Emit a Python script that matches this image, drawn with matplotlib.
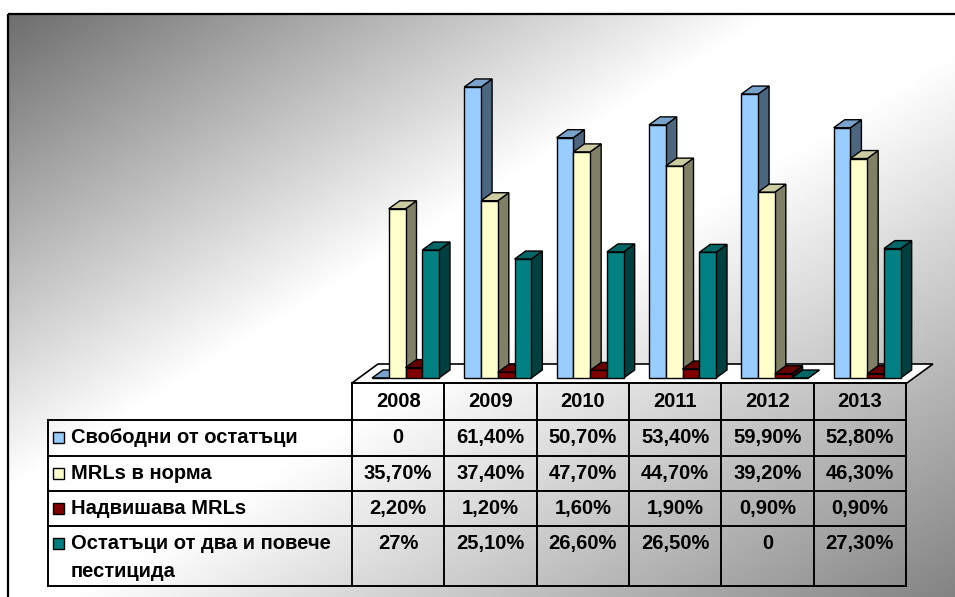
#!/usr/bin/env python3
"""
3D-style clustered bars with a data table underneath (pesticide residues 2008-2013)
"""

import matplotlib
matplotlib.use('Agg')
import matplotlib.pyplot as plt
import numpy as np
from matplotlib.patches import Polygon, Rectangle

plt.rcParams['font.family'] = ['Liberation Sans', 'DejaVu Sans']

# Data
years = ['2008', '2009', '2010', '2011', '2012', '2013']
series_names = ['Свободни от остатъци', 'MRLs в норма', 'Надвишава MRLs',
                'Остатъци от два и повече\nпестицида']
free_of_residues = [0, 61.4, 50.7, 53.4, 59.9, 52.8]
within_mrl = [35.7, 37.4, 47.7, 44.7, 39.2, 46.3]
above_mrl = [2.2, 1.2, 1.6, 1.9, 0.9, 0.9]
multi_residues = [27, 25.1, 26.6, 26.5, 0, 27.3]

series = [free_of_residues, within_mrl, above_mrl, multi_residues]
colors = ['#99CCFF', '#FFFFCC', '#800000', '#008080']


def fmt(v):
    if v == 0:
        return '0'
    if float(v).is_integer():
        return f'{int(v)}%'
    return f'{v:.2f}%'.replace('.', ',')


def shade(c, f):
    r, g, b = matplotlib.colors.to_rgb(c)
    return (r * f, g * f, b * f)


W, H = 955, 597
fig = plt.figure(figsize=(W / 100, H / 100), dpi=100)

# Background: framed chart area with diagonal gradient
bg = fig.add_axes([0, 0, 1, 1])
bg.axis('off')
gx, gy = np.meshgrid(np.linspace(0, 1, 400), np.linspace(0, 1, 300))
u = gx + gy
grad = np.interp(u, [0, 0.8, 1.05, 2.0], [0.43, 1.0, 1.0, 0.5])
bg.imshow(grad, cmap='gray', vmin=0, vmax=1, extent=[8, W + 10, H + 10, 14],
          aspect='auto', interpolation='bilinear', zorder=0)
bg.add_patch(Rectangle((8, 14), W + 10, H + 10, fill=False, edgecolor='black',
                       linewidth=1.6, zorder=1))
bg.set_xlim(0, W)
bg.set_ylim(H, 0)

# Bars (data units: x = category column, y = percent)
px_col = 92.33
px_pct = 4.74
ax = fig.add_axes([352 / W, (H - 378) / H, 554 / W, (378 - 40) / H])
ax.set_xlim(0, 6)
ax.set_ylim(0, (378 - 40) / px_pct)
ax.axis('off')

dx = 11 / px_col
dy = 8 / px_pct
bar_w = 16.75 / px_col
group_off = 20 / px_col

# floor
fdx, fdy = 26 / px_col, 19 / px_pct
f0 = -5 / px_pct
ax.add_patch(Polygon([(0, f0), (6.01, f0), (6.01 + fdx, f0 + fdy), (fdx, f0 + fdy)],
                     closed=True, facecolor='white', edgecolor='black',
                     linewidth=1.2, clip_on=False, zorder=1))

z = 2
for k in range(len(years)):
    for i, (vals, col) in enumerate(zip(series, colors)):
        h = vals[k]
        x0 = k + group_off + i * bar_w
        x1 = x0 + bar_w
        side = Polygon([(x1, 0), (x1 + dx, dy), (x1 + dx, h + dy), (x1, h)], closed=True,
                       facecolor=shade(col, 0.5), edgecolor='black', linewidth=1.0,
                       clip_on=False, zorder=z)
        top = Polygon([(x0, h), (x0 + dx, h + dy), (x1 + dx, h + dy), (x1, h)], closed=True,
                      facecolor=shade(col, 0.8), edgecolor='black', linewidth=1.0,
                      clip_on=False, zorder=z)
        ax.add_patch(side)
        ax.add_patch(top)
        ax.bar(x0, h, width=bar_w, align='edge', color=col, edgecolor='black',
               linewidth=1.0, clip_on=False, zorder=z + 0.5)
        z += 1

# Data table
x_left = (48 - 352) / px_col
x_right = (907 - 352) / px_col
tab = fig.add_axes([48 / W, (H - 586) / H, (907 - 48) / W, (586 - 383) / H])
row_edges = [0, 1, 2, 2.95, 3.9, 5.55]
tab.set_xlim(x_left, x_right)
tab.set_ylim(row_edges[-1], 0)
tab.axis('off')

lw = 1.4
tab.plot([0, 6], [0, 0], color='black', lw=lw, clip_on=False)
for y in row_edges[1:]:
    tab.plot([x_left, 6], [y, y], color='black', lw=lw, clip_on=False)
for k in range(7):
    tab.plot([k, k], [0, row_edges[-1]], color='black', lw=lw, clip_on=False)
tab.plot([x_left, x_left], [1, row_edges[-1]], color='black', lw=lw, clip_on=False)

fs = 14.5
for k, yr in enumerate(years):
    tab.text(k + 0.5, 0.5, yr, ha='center', va='center', fontsize=fs, fontweight='bold')

sq_w = 11 / px_col
sq_h = 11 / 36.58
for r, (name, vals, col) in enumerate(zip(series_names, series, colors)):
    top_edge = row_edges[r + 1]
    ycen = top_edge + 0.5 if r == 3 else (top_edge + row_edges[r + 2]) / 2
    for k, v in enumerate(vals):
        tab.text(k + 0.5, ycen, fmt(v), ha='center', va='center',
                 fontsize=fs, fontweight='bold')
    tab.add_patch(Rectangle(((53 - 352) / px_col, ycen - sq_h / 2), sq_w, sq_h,
                            facecolor=col, edgecolor='black', linewidth=1.0, clip_on=False))
    lines = name.split('\n')
    for j, line in enumerate(lines):
        tab.text((71 - 352) / px_col, ycen + j * 0.75, line, ha='left', va='center',
                 fontsize=fs, fontweight='bold')

plt.savefig('out.png', dpi=100)
